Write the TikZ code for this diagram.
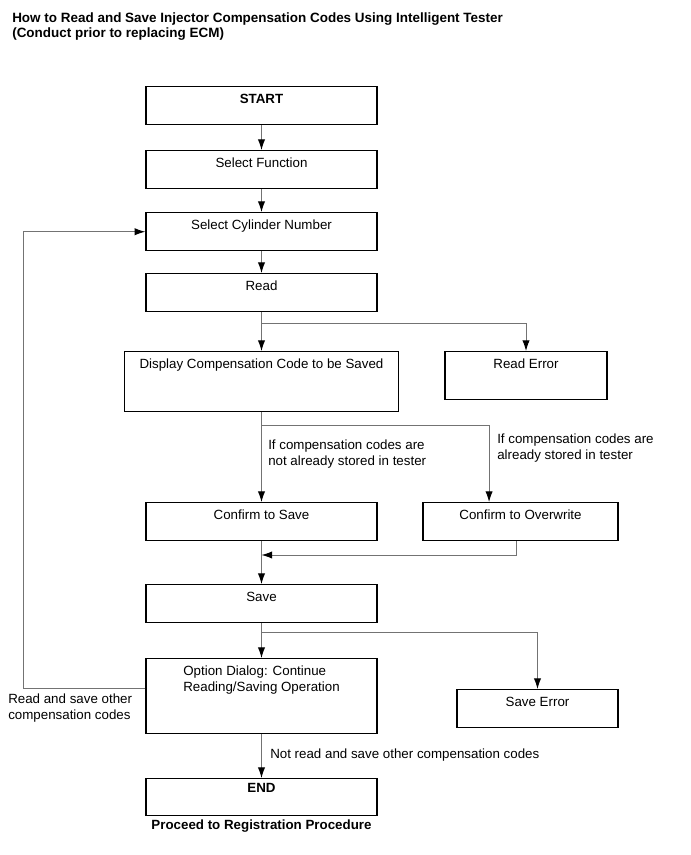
\documentclass[tikz,border=0pt]{standalone}
\usepackage{fontspec}
\setmainfont{Liberation Sans}
\usetikzlibrary{arrows.meta,positioning,calc}

\tikzset{
  box/.style={draw, line width=1.1pt, anchor=north, minimum width=173.25pt,
    inner xsep=4pt, inner ysep=5.4pt, text height=7.2pt, text depth=10.5pt,
    font=\fontsize{10}{12}\selectfont},
  link/.style={draw=black!55, line width=0.7pt,
    -{Latex[length=8pt,width=5.5pt,color=black]}},
  note/.style={inner sep=0pt, align=left, font=\fontsize{10}{12}\selectfont}
}

\begin{document}
\begin{tikzpicture}[x=0.75pt, y=-0.75pt]
    \useasboundingbox (0,0) rectangle (690,855);

    % Title
    \node[note, anchor=north west, font=\fontsize{10.1}{11}\selectfont\bfseries] (title) at (12,12.5)
        {How to Read and Save Injector Compensation Codes Using Intelligent Tester\\(Conduct prior to replacing ECM)};

    % Main column
    \node[box] (start) at (261.5,86) {\textbf{START}};
    \node[box] (func) at (261.5,150) {Select Function};
    \node[box] (cyl) at (261.5,212) {Select Cylinder Number};
    \node[box] (read) at (261.5,273) {Read};
    \node[box, minimum width=205.5pt, text depth=27pt] (display) at (261.5,351) {Display Compensation Code to be Saved};
    \node[box, minimum width=121.5pt, text depth=18pt] (readerr) at (526,351) {Read Error};
    \node[box] (csave) at (261.5,502) {Confirm to Save};
    \node[box, minimum width=146.25pt] (cover) at (520.5,502) {Confirm to Overwrite};
    \node[box] (save) at (261.5,584) {Save};
    \node[box, minimum width=120.75pt] (saveerr) at (537.5,689) {Save Error};
    \node[box, align=left, text height=19.2pt, text depth=26.25pt] (option) at (261.5,658) {Option Dialog: Continue\\Reading/Saving Operation};
    \node[box, inner ysep=3.2pt, text depth=14.1pt] (end) at (261.5,778) {\textbf{END}};
    \node[note, below=2pt of end, font=\fontsize{10}{12}\selectfont\bfseries] (proceed) {Proceed to Registration Procedure};

    % Branch labels
    \node[note, anchor=north west] (notstored) at (268,439.5) {If compensation codes are\\not already stored in tester};
    \node[note, anchor=north west] (stored) at (497,434) {If compensation codes are\\already stored in tester};
    \node[note, anchor=north west] (again) at (8,694) {Read and save other\\compensation codes};
    \node[note, anchor=base west] (stop) at (270,758) {Not read and save other compensation codes};

    % Junctions
    \coordinate (jread) at (261.5,323);
    \coordinate (jdisp) at (261.5,425);
    \coordinate (jsave) at (261.5,555);
    \coordinate (jerr) at (261.5,632);
    \coordinate (loop) at (23,0);

    % Connectors
    \draw[link] (start.south) -- (func.north);
    \draw[link] (func.south) -- (cyl.north);
    \draw[link] (cyl.south) -- (read.north);
    \draw[link] (read.south) -- (display.north);
    \draw[link] (jread) -| (readerr.north);
    \draw[link] (display.south) -- (csave.north);
    \draw[link] (jdisp) -| ($(cover.north west)!0.34!(cover.north east)$);
    \draw[link] ($(cover.south west)!0.48!(cover.south east)$) |- (jsave);
    \draw[link] (csave.south) -- (save.north);
    \draw[link] (save.south) -- (option.north);
    \draw[link] (jerr) -| (saveerr.north);
    \draw[link] (option.south) -- (end.north);
    \draw[link] ([yshift=5.6pt]option.west) -| (loop |- cyl.west) -- (cyl.west);
\end{tikzpicture}
\end{document}
